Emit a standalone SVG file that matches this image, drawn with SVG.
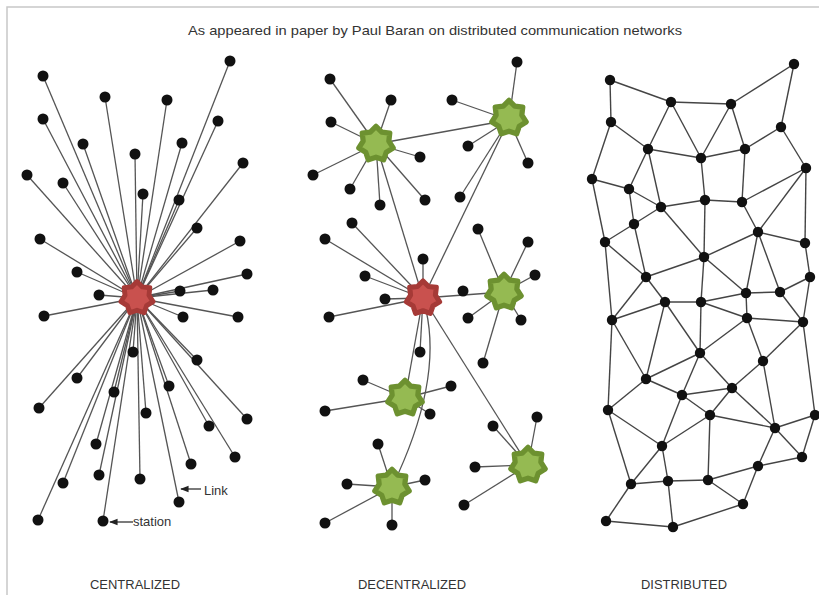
<svg xmlns="http://www.w3.org/2000/svg" xmlns:xlink="http://www.w3.org/1999/xlink" width="819" height="595" viewBox="0 0 819 595">
<style>
.t{font-family:"Liberation Sans",Arial,sans-serif;fill:#333}
.d circle{fill:#111}
.e line,.e path{stroke:#555;stroke-width:1.3;fill:none}
.e3 line{stroke:#444;stroke-width:1.4}
.red{fill:#c9514e;stroke:#a63a37;stroke-width:6;stroke-linejoin:round}
.grn{fill:#95ba52;stroke:#6d9130;stroke-width:6;stroke-linejoin:round}
</style>
<defs>
<path id="star" d="M0,-20 L6.51,-13.51 L15.64,-12.47 L14.62,-3.34 L19.5,4.45 L11.73,9.35 L8.68,18.02 L0,15 L-8.68,18.02 L-11.73,9.35 L-19.5,4.45 L-14.62,-3.34 L-15.64,-12.47 L-6.51,-13.51 Z"/>
<marker id="ar" viewBox="0 0 10 10" refX="9" refY="5" markerWidth="7" markerHeight="7" orient="auto"><path d="M0,1 L10,5 L0,9 Z" fill="#222"/></marker>
</defs>
<rect width="819" height="595" fill="#fff"/>
<path d="M7,595 V7 H819" stroke="#c8c8c8" stroke-width="1.5" fill="none"/>
<text class="t" x="435" y="35" font-size="13" text-anchor="middle" textLength="494" lengthAdjust="spacingAndGlyphs">As appeared in paper by Paul Baran on distributed communication networks</text>

<g id="connectors">
<g class="e" id="central-links">
<line x1="137" y1="298" x2="43" y2="76"/><line x1="137" y1="298" x2="230" y2="61"/><line x1="137" y1="298" x2="105" y2="97"/><line x1="137" y1="298" x2="167" y2="100"/><line x1="137" y1="298" x2="43" y2="119"/><line x1="137" y1="298" x2="218" y2="121"/><line x1="137" y1="298" x2="83" y2="144"/><line x1="137" y1="298" x2="182" y2="143"/><line x1="137" y1="298" x2="135" y2="154"/><line x1="137" y1="298" x2="243" y2="163"/><line x1="137" y1="298" x2="27" y2="175"/><line x1="137" y1="298" x2="63" y2="183"/><line x1="137" y1="298" x2="143" y2="194"/><line x1="137" y1="298" x2="179" y2="200"/><line x1="137" y1="298" x2="197" y2="228"/><line x1="137" y1="298" x2="40" y2="239"/><line x1="137" y1="298" x2="240" y2="241"/><line x1="137" y1="298" x2="77" y2="272"/><line x1="137" y1="298" x2="247" y2="274"/><line x1="137" y1="298" x2="180" y2="291"/><line x1="137" y1="298" x2="213" y2="290"/><line x1="137" y1="298" x2="99" y2="295"/><line x1="137" y1="298" x2="44" y2="316"/><line x1="137" y1="298" x2="183" y2="317"/><line x1="137" y1="298" x2="238" y2="317"/><line x1="137" y1="298" x2="133" y2="352"/><line x1="137" y1="298" x2="197" y2="360"/><line x1="137" y1="298" x2="77" y2="378"/><line x1="137" y1="298" x2="114" y2="392"/><line x1="137" y1="298" x2="169" y2="386"/><line x1="137" y1="298" x2="39" y2="408"/><line x1="137" y1="298" x2="146" y2="413"/><line x1="137" y1="298" x2="247" y2="419"/><line x1="137" y1="298" x2="209" y2="426"/><line x1="137" y1="298" x2="96" y2="444"/><line x1="137" y1="298" x2="235" y2="457"/><line x1="137" y1="298" x2="191" y2="464"/><line x1="137" y1="298" x2="99" y2="475"/><line x1="137" y1="298" x2="63" y2="483"/><line x1="137" y1="298" x2="140" y2="479"/><line x1="137" y1="298" x2="179" y2="502"/><line x1="137" y1="298" x2="38" y2="520"/><line x1="137" y1="298" x2="103" y2="521"/>
</g>
<g class="e" id="decentral-links">
<line x1="376" y1="144" x2="330" y2="79"/><line x1="376" y1="144" x2="391" y2="100"/><line x1="376" y1="144" x2="331" y2="122"/><line x1="376" y1="144" x2="420" y2="157"/><line x1="376" y1="144" x2="313" y2="175"/><line x1="376" y1="144" x2="350" y2="189"/><line x1="376" y1="144" x2="425" y2="200"/><line x1="376" y1="144" x2="380" y2="205"/>
<line x1="376" y1="144" x2="509" y2="120"/><line x1="376" y1="144" x2="423" y2="298"/>
<line x1="509" y1="120" x2="517" y2="62"/><line x1="509" y1="120" x2="452" y2="100"/><line x1="509" y1="120" x2="468" y2="146"/><line x1="509" y1="120" x2="528" y2="163"/><line x1="509" y1="120" x2="460" y2="197"/><line x1="509" y1="120" x2="423" y2="298"/>
<line x1="423" y1="298" x2="423" y2="259"/><line x1="423" y1="298" x2="365" y2="276"/><line x1="423" y1="298" x2="352" y2="223"/><line x1="423" y1="298" x2="325" y2="239"/><line x1="423" y1="298" x2="385" y2="299"/><line x1="423" y1="298" x2="329" y2="317"/><line x1="423" y1="298" x2="420" y2="352"/><line x1="423" y1="298" x2="504" y2="292"/><line x1="423" y1="298" x2="405" y2="398"/><line x1="423" y1="298" x2="528" y2="465"/>
<path d="M426,310 C434,345 434,400 392,487"/>
<line x1="504" y1="292" x2="478" y2="229"/><line x1="504" y1="292" x2="528" y2="242"/><line x1="504" y1="292" x2="535" y2="275"/><line x1="504" y1="292" x2="468" y2="318"/><line x1="504" y1="292" x2="521" y2="320"/><line x1="504" y1="292" x2="483" y2="363"/>
<line x1="405" y1="398" x2="363" y2="380"/><line x1="405" y1="398" x2="451" y2="386"/><line x1="405" y1="398" x2="325" y2="411"/><line x1="405" y1="398" x2="430" y2="414"/>
<line x1="392" y1="487" x2="378" y2="444"/><line x1="392" y1="487" x2="347" y2="484"/><line x1="392" y1="487" x2="425" y2="480"/><line x1="392" y1="487" x2="325" y2="523"/><line x1="392" y1="487" x2="392" y2="525"/>
<line x1="528" y1="465" x2="493" y2="426"/><line x1="528" y1="465" x2="537" y2="417"/><line x1="528" y1="465" x2="475" y2="467"/><line x1="528" y1="465" x2="464" y2="505"/>
</g>
<g class="e e3" id="distributed-links">
<line x1="610" y1="80" x2="671" y2="102"/><line x1="610" y1="80" x2="611" y2="122"/><line x1="671" y1="102" x2="731" y2="104"/><line x1="731" y1="104" x2="794" y2="64"/><line x1="794" y1="64" x2="781" y2="127"/><line x1="611" y1="122" x2="648" y2="149"/><line x1="611" y1="122" x2="592" y2="179"/><line x1="671" y1="102" x2="648" y2="149"/><line x1="671" y1="102" x2="701" y2="158"/><line x1="731" y1="104" x2="701" y2="158"/><line x1="731" y1="104" x2="745" y2="149"/><line x1="648" y1="149" x2="701" y2="158"/><line x1="701" y1="158" x2="745" y2="149"/><line x1="745" y1="149" x2="781" y2="127"/><line x1="781" y1="127" x2="806" y2="168"/><line x1="648" y1="149" x2="629" y2="189"/><line x1="648" y1="149" x2="661" y2="207"/><line x1="592" y1="179" x2="629" y2="189"/><line x1="592" y1="179" x2="605" y2="242"/><line x1="629" y1="189" x2="661" y2="207"/><line x1="629" y1="189" x2="634" y2="224"/><line x1="701" y1="158" x2="705" y2="200"/><line x1="745" y1="149" x2="742" y2="202"/><line x1="705" y1="200" x2="742" y2="202"/><line x1="661" y1="207" x2="705" y2="200"/><line x1="742" y1="202" x2="806" y2="168"/><line x1="806" y1="168" x2="758" y2="232"/><line x1="806" y1="168" x2="805" y2="243"/><line x1="742" y1="202" x2="758" y2="232"/><line x1="661" y1="207" x2="634" y2="224"/><line x1="661" y1="207" x2="704" y2="257"/><line x1="705" y1="200" x2="704" y2="257"/><line x1="634" y1="224" x2="605" y2="242"/><line x1="634" y1="224" x2="646" y2="277"/><line x1="605" y1="242" x2="646" y2="277"/><line x1="758" y1="232" x2="704" y2="257"/><line x1="758" y1="232" x2="805" y2="243"/><line x1="758" y1="232" x2="746" y2="293"/><line x1="758" y1="232" x2="780" y2="292"/><line x1="805" y1="243" x2="810" y2="277"/><line x1="704" y1="257" x2="646" y2="277"/><line x1="704" y1="257" x2="746" y2="293"/><line x1="704" y1="257" x2="701" y2="302"/><line x1="810" y1="277" x2="780" y2="292"/><line x1="605" y1="242" x2="612" y2="320"/>
<line x1="646" y1="277" x2="665" y2="302"/><line x1="646" y1="277" x2="612" y2="320"/><line x1="612" y1="320" x2="665" y2="302"/><line x1="665" y1="302" x2="701" y2="302"/><line x1="701" y1="302" x2="746" y2="293"/><line x1="746" y1="293" x2="780" y2="292"/><line x1="746" y1="293" x2="747" y2="318"/><line x1="701" y1="302" x2="747" y2="318"/><line x1="780" y1="292" x2="803" y2="322"/><line x1="747" y1="318" x2="803" y2="322"/><line x1="810" y1="277" x2="803" y2="322"/><line x1="665" y1="302" x2="700" y2="353"/><line x1="701" y1="302" x2="700" y2="353"/><line x1="747" y1="318" x2="700" y2="353"/><line x1="665" y1="302" x2="646" y2="379"/><line x1="612" y1="320" x2="646" y2="379"/><line x1="612" y1="320" x2="608" y2="410"/><line x1="747" y1="318" x2="763" y2="361"/><line x1="803" y1="322" x2="763" y2="361"/><line x1="803" y1="322" x2="815" y2="415"/><line x1="700" y1="353" x2="646" y2="379"/><line x1="700" y1="353" x2="682" y2="395"/><line x1="700" y1="353" x2="732" y2="388"/><line x1="763" y1="361" x2="732" y2="388"/><line x1="763" y1="361" x2="775" y2="428"/><line x1="646" y1="379" x2="682" y2="395"/><line x1="646" y1="379" x2="608" y2="410"/><line x1="682" y1="395" x2="732" y2="388"/><line x1="682" y1="395" x2="710" y2="415"/><line x1="732" y1="388" x2="710" y2="415"/><line x1="732" y1="388" x2="775" y2="428"/><line x1="682" y1="395" x2="662" y2="446"/><line x1="710" y1="415" x2="662" y2="446"/><line x1="710" y1="415" x2="775" y2="428"/><line x1="710" y1="415" x2="708" y2="480"/><line x1="775" y1="428" x2="815" y2="415"/><line x1="775" y1="428" x2="802" y2="457"/><line x1="815" y1="415" x2="802" y2="457"/><line x1="775" y1="428" x2="758" y2="466"/><line x1="802" y1="457" x2="758" y2="466"/><line x1="608" y1="410" x2="662" y2="446"/><line x1="608" y1="410" x2="631" y2="484"/><line x1="662" y1="446" x2="631" y2="484"/><line x1="662" y1="446" x2="668" y2="481"/><line x1="631" y1="484" x2="668" y2="481"/><line x1="668" y1="481" x2="708" y2="480"/><line x1="708" y1="480" x2="758" y2="466"/><line x1="708" y1="480" x2="743" y2="504"/><line x1="758" y1="466" x2="743" y2="504"/><line x1="631" y1="484" x2="606" y2="521"/><line x1="606" y1="521" x2="673" y2="527"/><line x1="668" y1="481" x2="673" y2="527"/><line x1="673" y1="527" x2="743" y2="504"/>
</g>
<g id="annotations" stroke="#222" stroke-width="1.2">
<line x1="201" y1="489" x2="181" y2="489" marker-end="url(#ar)"/>
<line x1="133" y1="522" x2="110" y2="522" marker-end="url(#ar)"/>
</g>
</g>

<g class="d" id="centralized">
<g id="c-hub"><use xlink:href="#star" href="#star" class="red" transform="translate(137,298) scale(0.82)"/></g>
<g id="c1"><circle cx="43" cy="76" r="5.5"/></g><g id="c2"><circle cx="230" cy="61" r="5.5"/></g><g id="c3"><circle cx="105" cy="97" r="5.5"/></g><g id="c4"><circle cx="167" cy="100" r="5.5"/></g><g id="c5"><circle cx="43" cy="119" r="5.5"/></g><g id="c6"><circle cx="218" cy="121" r="5.5"/></g><g id="c7"><circle cx="83" cy="144" r="5.5"/></g><g id="c8"><circle cx="182" cy="143" r="5.5"/></g><g id="c9"><circle cx="135" cy="154" r="5.5"/></g><g id="c10"><circle cx="243" cy="163" r="5.5"/></g><g id="c11"><circle cx="27" cy="175" r="5.5"/></g><g id="c12"><circle cx="63" cy="183" r="5.5"/></g><g id="c13"><circle cx="143" cy="194" r="5.5"/></g><g id="c14"><circle cx="179" cy="200" r="5.5"/></g><g id="c15"><circle cx="197" cy="228" r="5.5"/></g><g id="c16"><circle cx="40" cy="239" r="5.5"/></g><g id="c17"><circle cx="240" cy="241" r="5.5"/></g><g id="c18"><circle cx="77" cy="272" r="5.5"/></g><g id="c19"><circle cx="247" cy="274" r="5.5"/></g><g id="c20"><circle cx="180" cy="291" r="5.5"/></g><g id="c21"><circle cx="213" cy="290" r="5.5"/></g><g id="c22"><circle cx="99" cy="295" r="5.5"/></g><g id="c23"><circle cx="44" cy="316" r="5.5"/></g><g id="c24"><circle cx="183" cy="317" r="5.5"/></g><g id="c25"><circle cx="238" cy="317" r="5.5"/></g><g id="c26"><circle cx="133" cy="352" r="5.5"/></g><g id="c27"><circle cx="197" cy="360" r="5.5"/></g><g id="c28"><circle cx="77" cy="378" r="5.5"/></g><g id="c29"><circle cx="114" cy="392" r="5.5"/></g><g id="c30"><circle cx="169" cy="386" r="5.5"/></g><g id="c31"><circle cx="39" cy="408" r="5.5"/></g><g id="c32"><circle cx="146" cy="413" r="5.5"/></g><g id="c33"><circle cx="247" cy="419" r="5.5"/></g><g id="c34"><circle cx="209" cy="426" r="5.5"/></g><g id="c35"><circle cx="96" cy="444" r="5.5"/></g><g id="c36"><circle cx="235" cy="457" r="5.5"/></g><g id="c37"><circle cx="191" cy="464" r="5.5"/></g><g id="c38"><circle cx="99" cy="475" r="5.5"/></g><g id="c39"><circle cx="63" cy="483" r="5.5"/></g><g id="c40"><circle cx="140" cy="479" r="5.5"/></g><g id="c41"><circle cx="179" cy="502" r="5.5"/></g><g id="c42"><circle cx="38" cy="520" r="5.5"/></g><g id="c43"><circle cx="103" cy="521" r="5.5"/></g>
</g>

<g class="d" id="decentralized">
<g id="d1"><circle cx="330" cy="79" r="5.5"/></g><g id="d2"><circle cx="391" cy="100" r="5.5"/></g><g id="d3"><circle cx="331" cy="122" r="5.5"/></g><g id="d4"><circle cx="420" cy="157" r="5.5"/></g><g id="d5"><circle cx="313" cy="175" r="5.5"/></g><g id="d6"><circle cx="350" cy="189" r="5.5"/></g><g id="d7"><circle cx="425" cy="200" r="5.5"/></g><g id="d8"><circle cx="380" cy="205" r="5.5"/></g>
<g id="d9"><circle cx="517" cy="62" r="5.5"/></g><g id="d10"><circle cx="452" cy="100" r="5.5"/></g><g id="d11"><circle cx="468" cy="146" r="5.5"/></g><g id="d12"><circle cx="528" cy="163" r="5.5"/></g><g id="d13"><circle cx="460" cy="197" r="5.5"/></g>
<g id="d14"><circle cx="423" cy="259" r="5.5"/></g><g id="d15"><circle cx="365" cy="276" r="5.5"/></g><g id="d16"><circle cx="352" cy="223" r="5.5"/></g><g id="d17"><circle cx="325" cy="239" r="5.5"/></g><g id="d18"><circle cx="385" cy="299" r="5.5"/></g><g id="d19"><circle cx="329" cy="317" r="5.5"/></g><g id="d20"><circle cx="420" cy="352" r="5.5"/></g><g id="d21"><circle cx="463" cy="291" r="5.5"/></g>
<g id="d22"><circle cx="478" cy="229" r="5.5"/></g><g id="d23"><circle cx="528" cy="242" r="5.5"/></g><g id="d24"><circle cx="535" cy="275" r="5.5"/></g><g id="d25"><circle cx="468" cy="318" r="5.5"/></g><g id="d26"><circle cx="521" cy="320" r="5.5"/></g><g id="d27"><circle cx="483" cy="363" r="5.5"/></g>
<g id="d28"><circle cx="363" cy="380" r="5.5"/></g><g id="d29"><circle cx="451" cy="386" r="5.5"/></g><g id="d30"><circle cx="325" cy="411" r="5.5"/></g><g id="d31"><circle cx="430" cy="414" r="5.5"/></g>
<g id="d32"><circle cx="378" cy="444" r="5.5"/></g><g id="d33"><circle cx="347" cy="484" r="5.5"/></g><g id="d34"><circle cx="425" cy="480" r="5.5"/></g><g id="d35"><circle cx="325" cy="523" r="5.5"/></g><g id="d36"><circle cx="392" cy="525" r="5.5"/></g>
<g id="d37"><circle cx="493" cy="426" r="5.5"/></g><g id="d38"><circle cx="537" cy="417" r="5.5"/></g><g id="d39"><circle cx="475" cy="467" r="5.5"/></g><g id="d40"><circle cx="464" cy="505" r="5.5"/></g>
<g id="hub-A"><use xlink:href="#star" href="#star" class="grn" transform="translate(376,144) scale(0.88)"/></g>
<g id="hub-B"><use xlink:href="#star" href="#star" class="grn" transform="translate(509,118) scale(0.88)"/></g>
<g id="hub-red"><use xlink:href="#star" href="#star" class="red" transform="translate(423,298) scale(0.85)"/></g>
<g id="hub-C"><use xlink:href="#star" href="#star" class="grn" transform="translate(504,292) scale(0.88)"/></g>
<g id="hub-D"><use xlink:href="#star" href="#star" class="grn" transform="translate(405,398) scale(0.88)"/></g>
<g id="hub-E"><use xlink:href="#star" href="#star" class="grn" transform="translate(392,487) scale(0.88)"/></g>
<g id="hub-F"><use xlink:href="#star" href="#star" class="grn" transform="translate(528,465) scale(0.88)"/></g>
</g>

<g class="d" id="distributed">
<g id="n1"><circle cx="610" cy="80" r="5.2"/></g><g id="n2"><circle cx="794" cy="64" r="5.2"/></g><g id="n3"><circle cx="671" cy="102" r="5.2"/></g><g id="n4"><circle cx="731" cy="104" r="5.2"/></g><g id="n5"><circle cx="611" cy="122" r="5.2"/></g><g id="n6"><circle cx="781" cy="127" r="5.2"/></g><g id="n7"><circle cx="648" cy="149" r="5.2"/></g><g id="n8"><circle cx="745" cy="149" r="5.2"/></g><g id="n9"><circle cx="701" cy="158" r="5.2"/></g><g id="n10"><circle cx="806" cy="168" r="5.2"/></g><g id="n11"><circle cx="592" cy="179" r="5.2"/></g><g id="n12"><circle cx="629" cy="189" r="5.2"/></g><g id="n13"><circle cx="705" cy="200" r="5.2"/></g><g id="n14"><circle cx="742" cy="202" r="5.2"/></g><g id="n15"><circle cx="661" cy="207" r="5.2"/></g><g id="n16"><circle cx="634" cy="224" r="5.2"/></g><g id="n17"><circle cx="758" cy="232" r="5.2"/></g><g id="n18"><circle cx="605" cy="242" r="5.2"/></g><g id="n19"><circle cx="805" cy="243" r="5.2"/></g><g id="n20"><circle cx="704" cy="257" r="5.2"/></g><g id="n21"><circle cx="646" cy="277" r="5.2"/></g><g id="n22"><circle cx="810" cy="277" r="5.2"/></g><g id="n23"><circle cx="746" cy="293" r="5.2"/></g><g id="n24"><circle cx="780" cy="292" r="5.2"/></g><g id="n25"><circle cx="665" cy="302" r="5.2"/></g><g id="n26"><circle cx="701" cy="302" r="5.2"/></g><g id="n27"><circle cx="612" cy="320" r="5.2"/></g><g id="n28"><circle cx="747" cy="318" r="5.2"/></g><g id="n29"><circle cx="803" cy="322" r="5.2"/></g><g id="n30"><circle cx="700" cy="353" r="5.2"/></g><g id="n31"><circle cx="763" cy="361" r="5.2"/></g><g id="n32"><circle cx="646" cy="379" r="5.2"/></g><g id="n33"><circle cx="732" cy="388" r="5.2"/></g><g id="n34"><circle cx="682" cy="395" r="5.2"/></g><g id="n35"><circle cx="608" cy="410" r="5.2"/></g><g id="n36"><circle cx="710" cy="415" r="5.2"/></g><g id="n37"><circle cx="815" cy="415" r="5.2"/></g><g id="n38"><circle cx="775" cy="428" r="5.2"/></g><g id="n39"><circle cx="662" cy="446" r="5.2"/></g><g id="n40"><circle cx="802" cy="457" r="5.2"/></g><g id="n41"><circle cx="758" cy="466" r="5.2"/></g><g id="n42"><circle cx="631" cy="484" r="5.2"/></g><g id="n43"><circle cx="668" cy="481" r="5.2"/></g><g id="n44"><circle cx="708" cy="480" r="5.2"/></g><g id="n45"><circle cx="743" cy="504" r="5.2"/></g><g id="n46"><circle cx="606" cy="521" r="5.2"/></g><g id="n47"><circle cx="673" cy="527" r="5.2"/></g>
</g>

<g id="labels">
<text class="t" x="204" y="495" font-size="13">Link</text>
<text class="t" x="133" y="526" font-size="13">station</text>
<text class="t" x="135" y="589" font-size="12.5" text-anchor="middle" textLength="90" lengthAdjust="spacingAndGlyphs">CENTRALIZED</text>
<text class="t" x="412" y="589" font-size="12.5" text-anchor="middle" textLength="108" lengthAdjust="spacingAndGlyphs">DECENTRALIZED</text>
<text class="t" x="684" y="589" font-size="12.5" text-anchor="middle" textLength="86" lengthAdjust="spacingAndGlyphs">DISTRIBUTED</text>
</g>
</svg>
